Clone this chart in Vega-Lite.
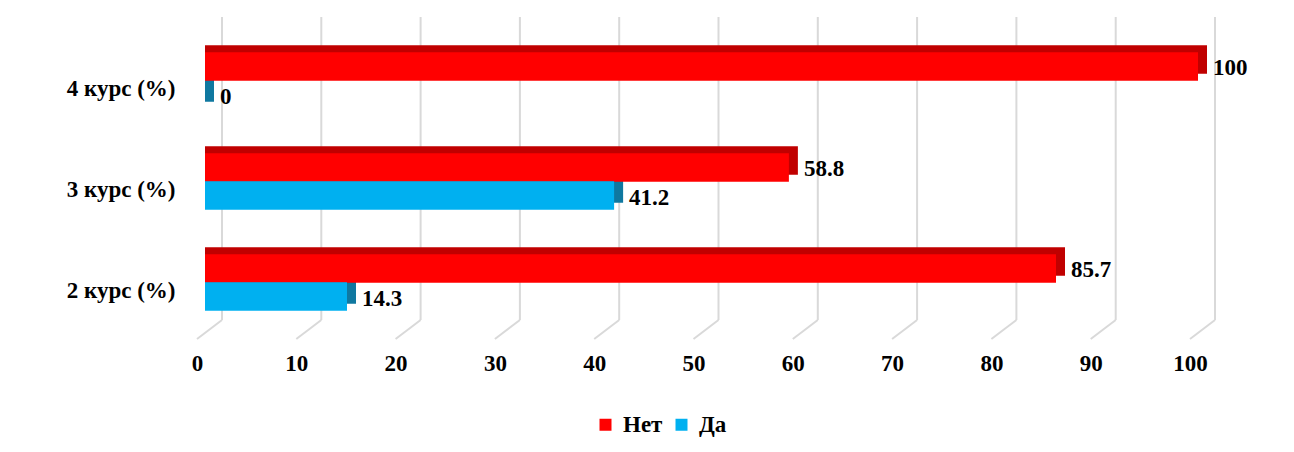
{
  "$schema": "https://vega.github.io/schema/vega-lite/v6.json",
  "autosize": {"type": "none"},
  "padding": {"left": 205, "top": 30, "right": 96, "bottom": 119},
  "width": 993,
  "height": 303,
  "background": "white",
  "config": {
    "view": {"stroke": null},
    "font": "Liberation Serif",
    "text": {"font": "Liberation Serif"}
  },
  "datasets": {
    "bars": [
      {"course": "4 курс (%)", "series": "Нет", "value": 100},
      {"course": "4 курс (%)", "series": "Да", "value": 0},
      {"course": "3 курс (%)", "series": "Нет", "value": 58.8},
      {"course": "3 курс (%)", "series": "Да", "value": 41.2},
      {"course": "2 курс (%)", "series": "Нет", "value": 85.7},
      {"course": "2 курс (%)", "series": "Да", "value": 14.3}
    ],
    "grid": [
      {"v": 0}, {"v": 10}, {"v": 20}, {"v": 30}, {"v": 40}, {"v": 50},
      {"v": 60}, {"v": 70}, {"v": 80}, {"v": 90}, {"v": 100}
    ]
  },
  "resolve": {"scale": {"y": "independent"}},
  "layer": [
    {
      "data": {"name": "grid"},
      "layer": [
        {
          "mark": {"type": "rule", "color": "#D9D9D9", "strokeWidth": 2, "xOffset": 17},
          "encoding": {
            "x": {"field": "v", "type": "quantitative", "scale": {"domain": [0, 100], "nice": false},
              "axis": {"values": [0,10,20,30,40,50,60,70,80,90,100], "title": null, "domain": false, "ticks": false, "tickSize": 0, "grid": false,
                "labelFont": "Liberation Serif", "labelFontWeight": "bold", "labelFontSize": 23, "labelColor": "#000000",
                "labelPadding": 19, "labelOffset": -8, "labelFlush": false}},
            "y": {"datum": 0.0429, "type": "quantitative", "scale": {"domain": [0, 1], "nice": false, "zero": false}, "axis": null},
            "y2": {"datum": 1.0429}
          }
        },
        {
          "mark": {"type": "rule", "color": "#D9D9D9", "strokeWidth": 2, "xOffset": 17, "x2Offset": -8},
          "encoding": {
            "x": {"field": "v", "type": "quantitative"},
            "x2": {"field": "v"},
            "y": {"datum": 0.0429, "type": "quantitative", "scale": {"domain": [0, 1], "nice": false, "zero": false}, "axis": null},
            "y2": {"datum": -0.0198}
          }
        }
      ]
    },
    {
      "data": {"name": "bars"},
      "layer": [
        {
          "transform": [{"filter": "datum.series === 'Нет'"}],
          "mark": {"type": "bar", "color": "#C00000", "height": 28.5, "yOffset": -21, "xOffset": 9},
          "encoding": {
            "y": {"field": "course", "type": "nominal", "sort": ["4 курс (%)", "3 курс (%)", "2 курс (%)"], "scale": {"paddingInner": 0, "paddingOuter": 0},
              "axis": {"title": null, "domain": false, "ticks": false, "grid": false, "labelFont": "Liberation Serif", "labelFontWeight": "bold", "labelFontSize": 23, "labelColor": "#000000", "labelPadding": 30, "labelOffset": 8}},
            "x": {"field": "value", "type": "quantitative"},
            "x2": {"datum": 0}
          }
        },
        {
          "transform": [{"filter": "datum.series === 'Да'"}],
          "mark": {"type": "bar", "color": "#0F78A0", "height": 28.5, "yOffset": 7, "xOffset": 9},
          "encoding": {
            "y": {"field": "course", "type": "nominal", "sort": ["4 курс (%)", "3 курс (%)", "2 курс (%)"]},
            "x": {"field": "value", "type": "quantitative"},
            "x2": {"datum": 0}
          }
        },
        {
          "transform": [{"filter": "datum.series === 'Нет'"}],
          "mark": {"type": "bar", "height": 28.5, "yOffset": -14},
          "encoding": {
            "y": {"field": "course", "type": "nominal", "sort": ["4 курс (%)", "3 курс (%)", "2 курс (%)"]},
            "x": {"field": "value", "type": "quantitative"},
            "x2": {"datum": 0},
            "color": {"field": "series", "type": "nominal", "scale": {"domain": ["Нет", "Да"], "range": ["#FF0000", "#00B0F0"]},
              "legend": {"title": null, "orient": "none", "legendX": 389, "legendY": 383, "direction": "horizontal", "symbolType": "square", "symbolSize": 144, "symbolStrokeWidth": 0,
                "labelFont": "Liberation Serif", "labelFontWeight": "bold", "labelFontSize": 23, "labelColor": "#000000", "labelOffset": 6, "columnPadding": 7}}
          }
        },
        {
          "transform": [{"filter": "datum.series === 'Да'"}],
          "mark": {"type": "bar", "height": 28.5, "yOffset": 14},
          "encoding": {
            "y": {"field": "course", "type": "nominal", "sort": ["4 курс (%)", "3 курс (%)", "2 курс (%)"]},
            "x": {"field": "value", "type": "quantitative"},
            "x2": {"datum": 0},
            "color": {"field": "series", "type": "nominal"}
          }
        },
        {
          "transform": [{"filter": "datum.series === 'Нет'"}],
          "mark": {"type": "text", "align": "left", "baseline": "middle", "dx": 15, "yOffset": -13, "font": "Liberation Serif", "fontWeight": "bold", "fontSize": 23, "color": "#000000"},
          "encoding": {
            "y": {"field": "course", "type": "nominal", "sort": ["4 курс (%)", "3 курс (%)", "2 курс (%)"]},
            "x": {"field": "value", "type": "quantitative"},
            "text": {"field": "value", "type": "quantitative"}
          }
        },
        {
          "transform": [{"filter": "datum.series === 'Да'"}],
          "mark": {"type": "text", "align": "left", "baseline": "middle", "dx": 15, "yOffset": 16, "font": "Liberation Serif", "fontWeight": "bold", "fontSize": 23, "color": "#000000"},
          "encoding": {
            "y": {"field": "course", "type": "nominal", "sort": ["4 курс (%)", "3 курс (%)", "2 курс (%)"]},
            "x": {"field": "value", "type": "quantitative"},
            "text": {"field": "value", "type": "quantitative"}
          }
        }
      ]
    }
  ]
}
